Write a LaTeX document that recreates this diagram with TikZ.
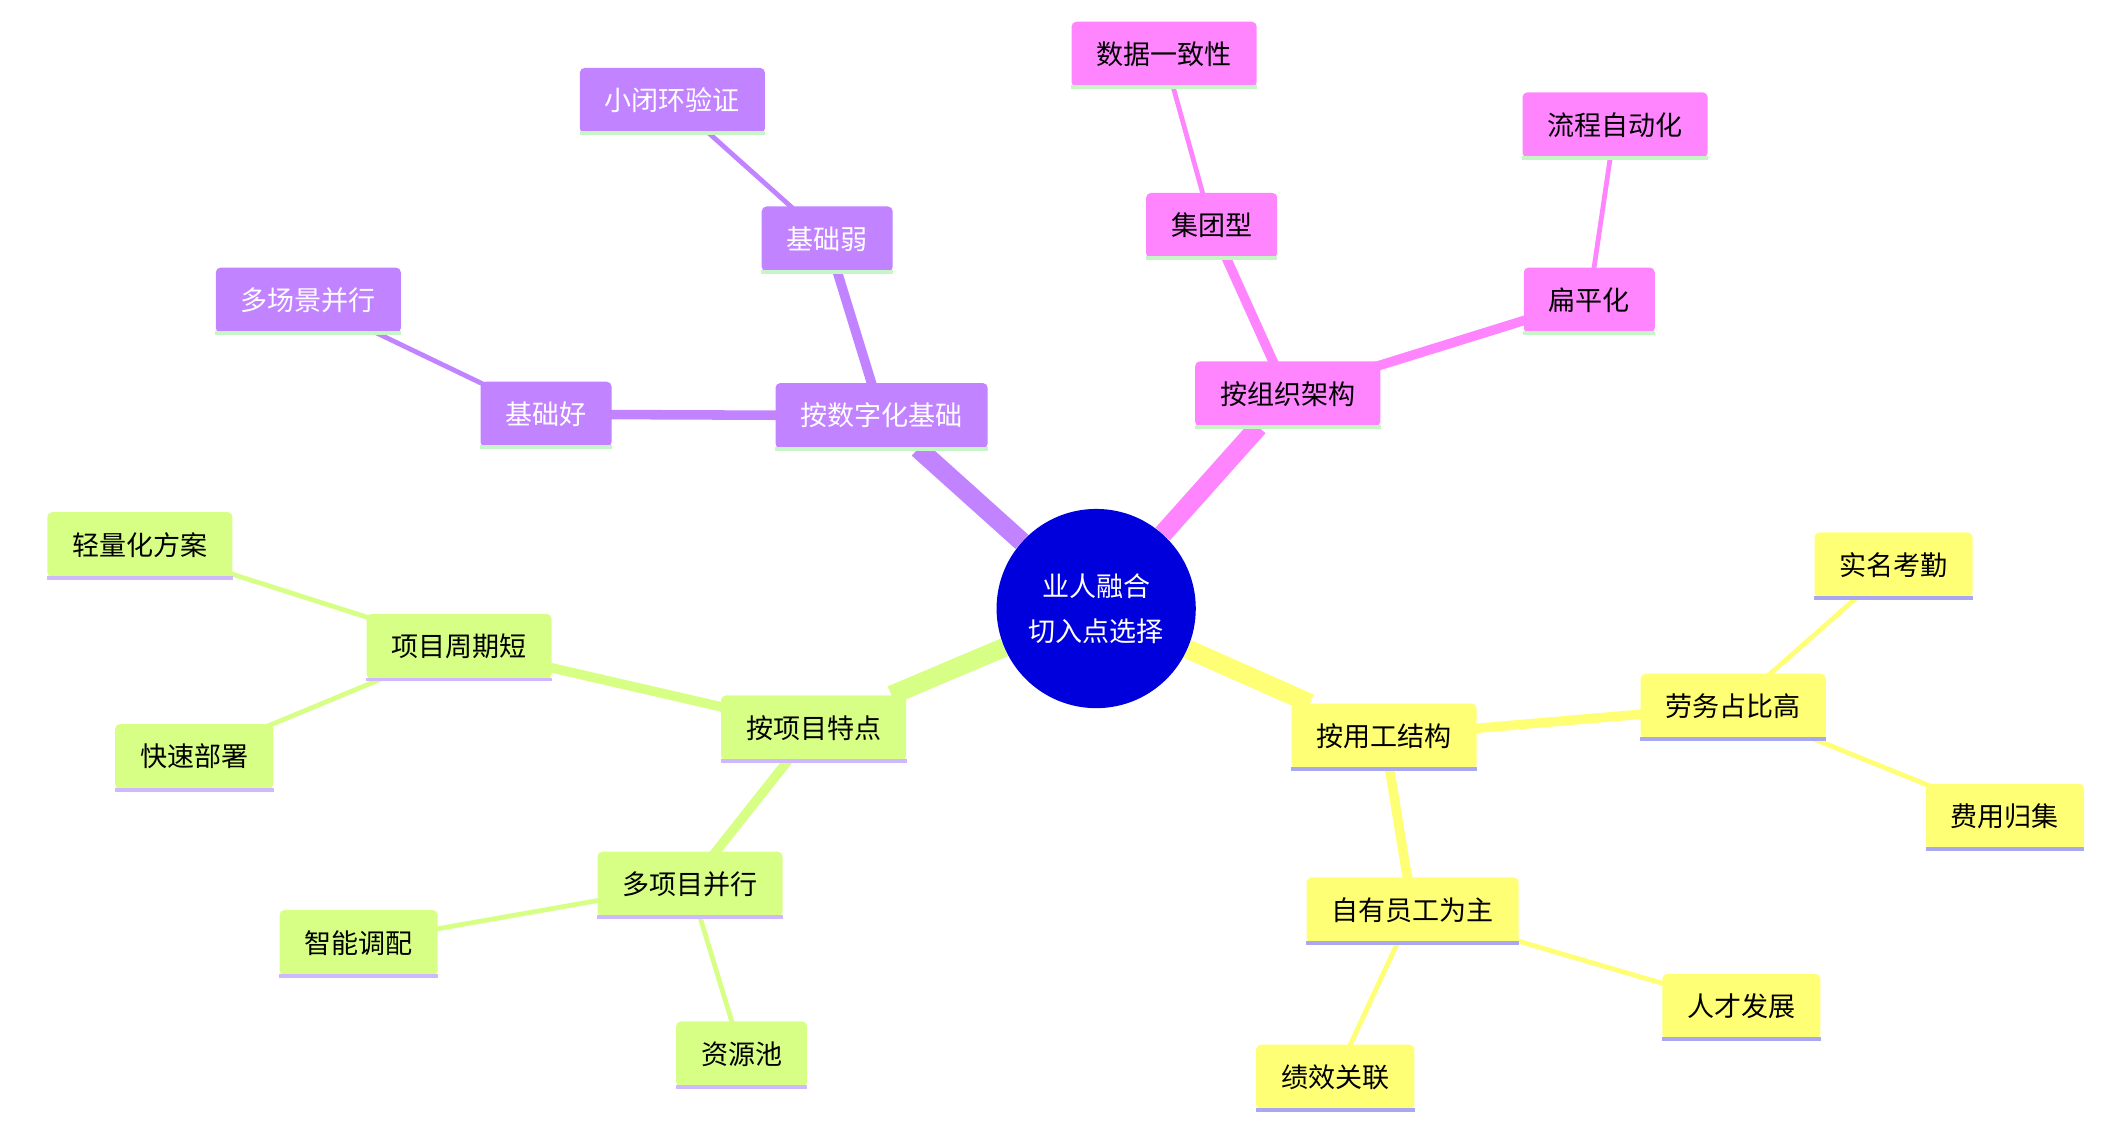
\documentclass[tikz,border=0pt]{standalone}
\usepackage{fontspec}
\setmainfont{Noto Sans CJK SC}
\usetikzlibrary{backgrounds}
\definecolor{purp}{HTML}{C183FF}
\definecolor{pnk}{HTML}{FF85FF}
\definecolor{grn}{HTML}{D8FF85}
\definecolor{yel}{HTML}{FFFF75}
\definecolor{ctr}{HTML}{0000DD}
\definecolor{ulg}{HTML}{C6F5C6}
\definecolor{ulp}{HTML}{D0B8FF}
\definecolor{ulb}{HTML}{A8A8F0}
\tikzset{
  box/.style={rounded corners=3pt, minimum height=1.44cm, inner xsep=0.55cm,
    font=\fontsize{17}{20}\selectfont},
  pbox/.style={box, fill=purp, text=white},
  kbox/.style={box, fill=pnk},
  gbox/.style={box, fill=grn},
  ybox/.style={box, fill=yel},
}
\begin{document}
\begin{tikzpicture}[x=0.03cm,y=-0.03cm]
   \useasboundingbox (0,0) rectangle (1560,829);

   % Root
      \node[circle, fill=ctr, text=white, minimum size=4.4cm, align=center,
            font=\fontsize{17}{28}\selectfont] (root) at (807,448) {业人融合\\切入点选择};

   % Digital base
      \node[pbox] (dig)  at (649,306) {按数字化基础};
      \node[pbox] (weak) at (609,176) {基础弱};
      \node[pbox] (loop) at (495,74)  {小闭环验证};
      \node[pbox] (good) at (402,305) {基础好};
      \node[pbox] (multi) at (227,221) {多场景并行};

   % Organisation
      \node[kbox] (org)   at (948,290) {按组织架构};
      \node[kbox] (group) at (892,166) {集团型};
      \node[kbox] (data)  at (857,40)  {数据一致性};
      \node[kbox] (flat)  at (1170,221) {扁平化};
      \node[kbox] (auto)  at (1189,92) {流程自动化};

   % Project
      \node[gbox] (proj)  at (599,536) {按项目特点};
      \node[gbox] (short) at (338,476) {项目周期短};
      \node[gbox] (light) at (103,401) {轻量化方案};
      \node[gbox] (fast)  at (143,557) {快速部署};
      \node[gbox] (para)  at (508,651) {多项目并行};
      \node[gbox] (smart) at (264,694) {智能调配};
      \node[gbox] (pool)  at (546,776) {资源池};

   % Employment
      \node[ybox] (emp)   at (1019,542) {按用工结构};
      \node[ybox] (labor) at (1276,520) {劳务占比高};
      \node[ybox] (name)  at (1394,416) {实名考勤};
      \node[ybox] (cost)  at (1476,601) {费用归集};
      \node[ybox] (own)   at (1040,670) {自有员工为主};
      \node[ybox] (tal)   at (1282,741) {人才发展};
      \node[ybox] (perf)  at (983,793)  {绩效关联};

   % Underlines
      \foreach \n/\c in {dig/ulg,weak/ulg,loop/ulg,good/ulg,multi/ulg,
                         org/ulg,group/ulg,data/ulg,flat/ulg,auto/ulg,
                         proj/ulp,short/ulp,light/ulp,fast/ulp,para/ulp,smart/ulp,pool/ulp,
                         emp/ulb,labor/ulb,name/ulb,cost/ulb,own/ulb,tal/ulb,perf/ulb}
         \draw[\c, line width=2.5pt] (\n.south west) -- (\n.south east);

   % Edges
   \begin{scope}[on background layer]
      \draw[purp, line width=12pt] (root) -- (dig);
      \draw[pnk, line width=12pt] (root) -- (org);
      \draw[grn, line width=12pt] (root) -- (proj);
      \draw[yel, line width=12pt] (root) -- (emp);
      \draw[purp, line width=6pt] (dig.center) -- (weak.center);
      \draw[purp, line width=6pt] (dig.center) -- (good.center);
      \draw[pnk, line width=6pt] (org.center) -- (group.center);
      \draw[pnk, line width=6pt] (org.center) -- (flat.center);
      \draw[grn, line width=6pt] (proj.center) -- (short.center);
      \draw[grn, line width=6pt] (proj.center) -- (para.center);
      \draw[yel, line width=6pt] (emp.center) -- (labor.center);
      \draw[yel, line width=6pt] (emp.center) -- (own.center);
      \draw[purp, line width=3pt] (weak.center) -- (loop.center);
      \draw[purp, line width=3pt] (good.center) -- (multi.center);
      \draw[pnk, line width=3pt] (group.center) -- (data.center);
      \draw[pnk, line width=3pt] (flat.center) -- (auto.center);
      \draw[grn, line width=3pt] (short.center) -- (light.center);
      \draw[grn, line width=3pt] (short.center) -- (fast.center);
      \draw[grn, line width=3pt] (para.center) -- (smart.center);
      \draw[grn, line width=3pt] (para.center) -- (pool.center);
      \draw[yel, line width=3pt] (labor.center) -- (name.center);
      \draw[yel, line width=3pt] (labor.center) -- (cost.center);
      \draw[yel, line width=3pt] (own.center) -- (tal.center);
      \draw[yel, line width=3pt] (own.center) -- (perf.center);
   \end{scope}
\end{tikzpicture}
\end{document}
